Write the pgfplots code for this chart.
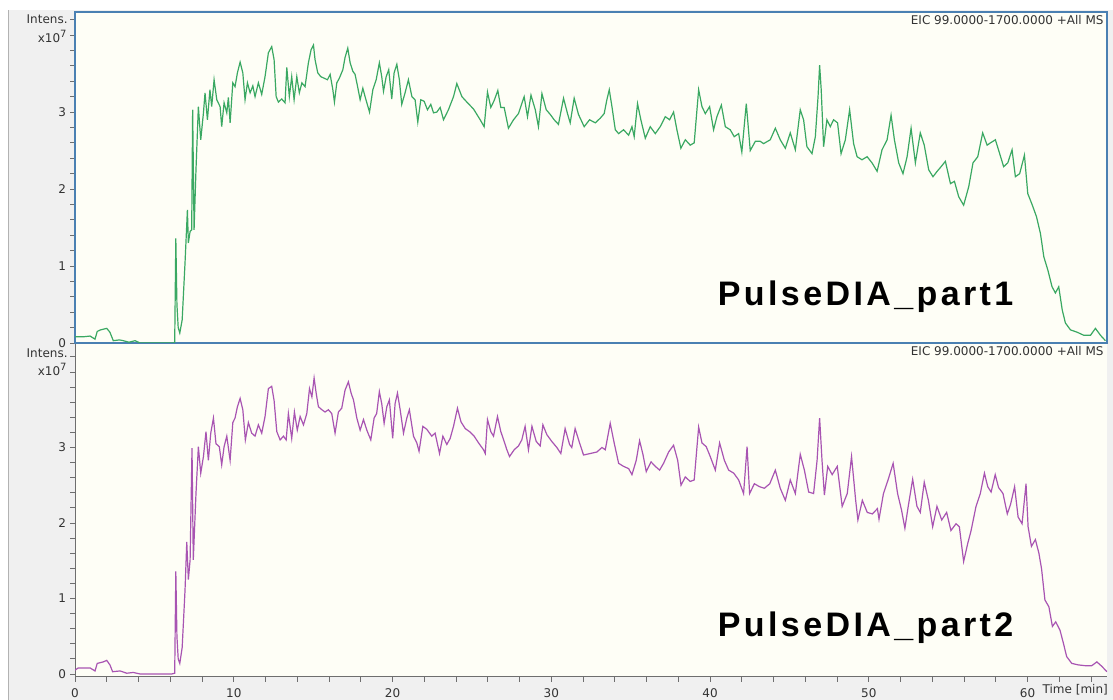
\documentclass[border=0pt]{standalone}
\usepackage{fontspec}
\setmainfont{DejaVu Sans}
\newfontfamily\biglabel[LetterSpace=10]{Liberation Sans}
\usepackage{pgfplots}
\pgfplotsset{compat=1.18}
\definecolor{tracegreen}{RGB}{58,168,98}
\definecolor{tracepurple}{RGB}{168,84,178}
\definecolor{bordblue}{RGB}{74,128,178}
\definecolor{cream}{RGB}{254,254,246}
\definecolor{panelgrey}{RGB}{240,240,240}
\definecolor{tickgrey}{RGB}{110,110,110}

\pgfplotstableread{
x y
0 0.08
0.1 0.08
0.5 0.08
0.95 0.09
1.26 0.05
1.4 0.15
1.6 0.17
2.0 0.19
2.2 0.14
2.41 0.03
2.8 0.04
3.04 0.03
3.4 0.01
3.78 0.03
4.1 0.0
5.0 0.0
6.2 0.0
6.28 0.01
6.35 1.36
6.42 0.5
6.5 0.2
6.6 0.13
6.75 0.3
6.93 1.04
7.08 1.73
7.14 1.30
7.25 1.45
7.35 1.47
7.41 3.03
7.5 1.47
7.62 2.25
7.77 3.07
7.92 2.64
8.09 2.99
8.19 3.25
8.34 2.90
8.5 3.29
8.61 3.07
8.76 3.42
8.93 3.16
9.14 3.07
9.24 2.81
9.39 3.12
9.56 2.99
9.66 3.19
9.77 2.86
9.94 3.38
10.08 3.33
10.23 3.51
10.40 3.65
10.57 3.51
10.71 3.16
10.86 3.38
11.03 3.25
11.20 3.34
11.34 3.20
11.55 3.38
11.76 3.23
11.97 3.46
12.18 3.77
12.39 3.85
12.54 3.68
12.67 3.20
12.81 3.13
13.02 3.17
13.23 3.12
13.34 3.58
13.5 3.20
13.65 3.46
13.8 3.16
13.97 3.46
14.13 3.25
14.29 3.38
14.49 3.33
14.70 3.64
14.87 3.81
15.02 3.87
15.12 3.68
15.29 3.51
15.48 3.46
15.69 3.44
15.9 3.42
16.07 3.49
16.24 3.29
16.34 3.13
16.49 3.38
16.65 3.44
16.87 3.55
17.01 3.71
17.18 3.83
17.33 3.64
17.5 3.53
17.64 3.49
17.79 3.34
17.96 3.16
18.13 3.31
18.27 3.20
18.55 3.00
18.76 3.29
18.97 3.42
19.17 3.64
19.32 3.46
19.43 3.27
19.6 3.46
19.76 3.55
19.95 3.17
20.1 3.51
20.27 3.62
20.43 3.42
20.58 3.10
20.79 3.25
21.0 3.42
21.22 3.20
21.42 3.16
21.59 2.87
21.78 3.16
21.99 3.14
22.2 3.03
22.41 3.10
22.58 2.99
22.79 3.0
23.0 3.06
23.21 2.90
23.52 3.03
23.84 3.20
24.05 3.37
24.37 3.20
24.68 3.13
25.1 3.04
25.52 2.90
25.77 2.81
25.98 3.26
26.19 3.06
26.4 3.15
26.63 3.28
26.82 3.06
27.03 3.06
27.3 2.79
27.62 2.90
27.93 2.98
28.29 3.20
28.5 2.94
28.72 3.22
28.99 3.03
29.19 2.81
29.41 3.24
29.68 3.03
29.93 2.97
30.18 2.90
30.45 2.84
30.77 3.18
31.02 2.98
31.19 2.86
31.44 3.18
31.71 2.97
32.07 2.81
32.41 2.90
32.77 2.86
33.08 2.92
33.33 2.98
33.5 3.16
33.65 3.29
33.82 3.07
34.03 2.77
34.24 2.72
34.55 2.77
34.87 2.70
35.08 2.81
35.22 2.68
35.43 3.11
35.64 2.90
35.92 2.66
36.23 2.81
36.55 2.72
36.86 2.81
37.18 2.94
37.45 2.90
37.7 3.00
37.91 2.77
38.16 2.53
38.44 2.64
38.75 2.57
39.0 2.60
39.28 3.29
39.49 3.07
39.7 2.98
39.97 3.07
40.22 2.77
40.43 2.94
40.71 3.09
40.96 2.81
41.27 2.77
41.52 2.68
41.8 2.72
42.0 2.48
42.28 3.11
42.53 2.50
42.85 2.62
43.16 2.62
43.37 2.59
43.79 2.64
44.11 2.79
44.42 2.64
44.74 2.53
45.05 2.73
45.37 2.51
45.68 3.03
45.89 2.90
46.1 2.55
46.42 2.46
46.63 2.68
46.8 3.20
46.9 3.61
47.0 3.29
47.15 2.55
47.36 2.90
47.57 2.81
47.78 2.90
48.03 2.86
48.25 2.46
48.52 2.64
48.79 3.03
49.04 2.59
49.26 2.42
49.57 2.38
49.89 2.42
50.2 2.34
50.52 2.23
50.83 2.51
51.15 2.64
51.4 2.96
51.61 2.64
51.88 2.34
52.15 2.20
52.41 2.42
52.66 2.79
52.93 2.34
53.24 2.73
53.49 2.57
53.77 2.25
54.04 2.16
54.3 2.23
54.55 2.29
54.82 2.36
55.14 2.07
55.39 2.10
55.66 1.90
55.97 1.79
56.29 2.03
56.56 2.34
56.86 2.42
57.17 2.73
57.45 2.57
57.66 2.60
57.97 2.64
58.24 2.46
58.49 2.29
58.75 2.34
59.02 2.51
59.23 2.16
59.5 2.20
59.8 2.44
60.01 1.94
60.28 1.80
60.56 1.64
60.81 1.42
61.02 1.12
61.27 0.95
61.54 0.73
61.75 0.65
61.96 0.73
62.18 0.43
62.38 0.26
62.7 0.17
63.12 0.14
63.54 0.10
63.96 0.10
64.27 0.19
64.59 0.10
64.9 0.03
}\partone

\pgfplotstableread{
x y
0 0.05
0.2 0.08
0.95 0.08
1.26 0.04
1.4 0.14
1.78 0.16
2.0 0.18
2.2 0.12
2.37 0.03
2.84 0.04
3.26 0.01
3.67 0.02
4.1 0.0
6.09 0.0
6.28 0.01
6.35 1.36
6.42 0.5
6.5 0.2
6.6 0.14
6.75 0.35
6.93 1.11
7.04 1.75
7.14 1.25
7.25 1.51
7.37 2.99
7.45 1.51
7.62 2.39
7.77 3.01
7.92 2.66
8.09 2.88
8.25 3.21
8.4 2.83
8.55 3.19
8.72 3.39
8.88 3.05
9.09 3.01
9.24 2.77
9.39 3.01
9.56 3.15
9.77 2.83
9.94 3.33
10.08 3.39
10.23 3.54
10.4 3.65
10.57 3.50
10.73 3.10
10.92 3.33
11.13 3.19
11.34 3.15
11.55 3.30
11.76 3.19
11.97 3.41
12.18 3.78
12.39 3.81
12.54 3.62
12.71 3.21
12.92 3.10
13.13 3.15
13.3 3.10
13.44 3.45
13.65 3.12
13.82 3.47
14.0 3.23
14.18 3.41
14.39 3.30
14.6 3.45
14.77 3.78
14.92 3.67
15.06 3.92
15.19 3.72
15.33 3.54
15.55 3.50
15.75 3.47
15.96 3.50
16.17 3.45
16.38 3.19
16.59 3.47
16.8 3.52
17.01 3.76
17.22 3.87
17.39 3.72
17.54 3.63
17.75 3.39
17.96 3.23
18.17 3.37
18.38 3.23
18.63 3.10
18.84 3.39
19.0 3.45
19.17 3.74
19.32 3.58
19.47 3.32
19.64 3.54
19.8 3.63
20.01 3.12
20.16 3.58
20.31 3.72
20.48 3.50
20.69 3.19
20.9 3.39
21.06 3.50
21.32 3.15
21.53 3.06
21.67 2.95
21.91 3.28
22.16 3.24
22.47 3.15
22.68 3.19
22.96 2.92
23.17 3.15
23.42 3.04
23.63 3.12
23.84 3.28
24.09 3.52
24.31 3.34
24.58 3.25
24.85 3.21
25.14 3.15
25.42 3.06
25.73 2.97
25.84 2.92
25.98 3.37
26.19 3.21
26.36 3.15
26.61 3.41
26.82 3.21
27.03 3.08
27.2 2.97
27.37 2.88
27.66 2.97
27.93 3.02
28.14 3.10
28.35 3.28
28.56 2.97
28.78 3.28
29.05 3.08
29.3 3.02
29.47 3.30
29.72 3.17
30.03 3.08
30.35 3.00
30.6 2.92
30.87 3.25
31.15 3.04
31.29 3.00
31.5 3.25
31.78 3.06
32.03 2.90
32.45 2.92
32.87 2.94
33.19 3.00
33.4 2.97
33.71 3.32
33.96 3.06
34.24 2.79
34.55 2.75
34.87 2.72
35.08 2.64
35.35 2.83
35.56 3.09
35.77 2.91
35.98 2.68
36.28 2.81
36.55 2.75
36.82 2.70
37.07 2.79
37.39 2.94
37.7 3.03
37.96 2.83
38.17 2.50
38.44 2.61
38.75 2.55
39.0 2.57
39.28 3.27
39.49 3.06
39.76 3.01
40.01 2.88
40.33 2.70
40.6 3.06
40.9 2.83
41.17 2.70
41.49 2.66
41.8 2.57
42.11 2.39
42.33 3.01
42.49 2.39
42.79 2.52
43.12 2.48
43.42 2.46
43.76 2.52
44.11 2.70
44.42 2.46
44.74 2.30
45.05 2.57
45.37 2.39
45.68 2.91
45.94 2.70
46.21 2.41
46.52 2.39
46.74 2.83
46.9 3.39
47.05 2.83
47.2 2.37
47.41 2.75
47.69 2.64
48.01 2.75
48.32 2.22
48.64 2.39
48.91 2.88
49.17 2.30
49.31 2.04
49.59 2.30
49.9 2.14
50.22 2.12
50.54 2.19
50.64 2.05
50.92 2.39
51.21 2.57
51.53 2.79
51.81 2.39
52.06 2.17
52.27 1.93
52.48 2.22
52.76 2.58
53.03 2.22
53.24 2.14
53.49 2.54
53.75 2.30
54.02 1.95
54.29 2.22
54.59 2.04
54.9 2.14
55.17 1.90
55.49 1.99
55.7 1.95
55.97 1.49
56.23 1.73
56.44 1.90
56.75 2.22
57.02 2.39
57.28 2.66
57.49 2.48
57.7 2.41
57.96 2.64
58.17 2.47
58.45 2.39
58.72 2.12
58.93 2.25
59.18 2.48
59.4 2.08
59.65 1.99
59.9 2.52
60.03 1.95
60.24 1.69
60.49 1.78
60.71 1.60
60.88 1.39
61.09 0.98
61.34 0.89
61.56 0.63
61.77 0.69
62.04 0.58
62.25 0.41
62.46 0.23
62.78 0.14
63.2 0.12
63.62 0.11
64.04 0.11
64.36 0.16
64.68 0.10
64.99 0.03
}\parttwo

\pgfplotsset{
  chromstyle/.style={
    scale only axis,
    anchor=south west,
    width=516pt,
    xmin=0, xmax=65,
    clip mode=individual,
    tick align=outside,
    major tick length=2.5pt,
    minor tick length=2.5pt,
    every tick/.style={draw=tickgrey, line width=0.4pt},
    ytick={0,1,2,3},
    minor ytick={0.2,0.4,0.6,0.8,1.2,1.4,1.6,1.8,2.2,2.4,2.6,2.8,3.2,3.4,3.6,3.8,4,4.2},
    ytick pos=left,
    /pgf/number format/assume math mode=true,
    tick label style={font=\fontsize{6}{7}\selectfont, text=black!80},
    yticklabel style={xshift=1.5pt},
    axis background/.style={fill=cream},
  }
}

\begin{document}
\begin{tikzpicture}
\fill[white] (0,0) rectangle (556.5pt,350pt);
\fill[panelgrey] (4pt,0) rectangle (556.5pt,345pt);
\draw[gray!60, line width=0.4pt] (4pt,0) -- (4pt,345pt);

% bottom panel
\begin{axis}[chromstyle,
  at={(37.5pt,11.5pt)}, height=167pt,
  ymin=-0.04, ymax=4.384,
  axis x line*=bottom, axis y line*=left,
  axis line style={-, draw=tickgrey, line width=0.5pt},
  xtick={0,10,20,30,40,50,60},
  minor xtick={2,4,6,8,12,14,16,18,22,24,26,28,32,34,36,38,42,44,46,48,52,54,56,58,62,64},
  xtick pos=bottom,
  extra x ticks={63},
  extra x tick labels={Time [min]},
  extra x tick style={major tick length=0pt},
]
\addplot[tracepurple, line width=0.6pt] table[x=x,y=y] {\parttwo};
\node[anchor=east, font=\fontsize{6}{7}\selectfont, text=black!80, inner sep=0pt] at ([xshift=-3.5pt]axis cs:0,4.25) {Intens.};
\node[anchor=east, font=\fontsize{6}{7}\selectfont, text=black!80, inner sep=0pt] at ([xshift=-3.5pt]axis cs:0,4.03) {x10\textsuperscript{7}};
\node[anchor=north east, font=\fontsize{6}{7}\selectfont, text=black!80, inner sep=1.5pt] at (rel axis cs:1,1) {EIC 99.0000-1700.0000 +All MS};
\node[font=\biglabel\bfseries\fontsize{17}{19}\selectfont] at (axis cs:49.8,0.61) {PulseDIA\_part2};
\end{axis}

% top panel
\begin{axis}[chromstyle,
  at={(37.5pt,178.5pt)}, height=165.5pt,
  ymin=0, ymax=4.30,
  xtick=\empty,
  axis line style={draw=bordblue, line width=0.9pt},
]
\addplot[tracegreen, line width=0.6pt] table[x=x,y=y] {\partone};
\node[anchor=east, font=\fontsize{6}{7}\selectfont, text=black!80, inner sep=0pt] at ([xshift=-3.5pt]axis cs:0,4.2) {Intens.};
\node[anchor=east, font=\fontsize{6}{7}\selectfont, text=black!80, inner sep=0pt] at ([xshift=-3.5pt]axis cs:0,3.98) {x10\textsuperscript{7}};
\node[anchor=north east, font=\fontsize{6}{7}\selectfont, text=black!80, inner sep=1.5pt] at (rel axis cs:1,1) {EIC 99.0000-1700.0000 +All MS};
\node[font=\biglabel\bfseries\fontsize{17}{19}\selectfont] at (axis cs:49.8,0.6) {PulseDIA\_part1};
\end{axis}

\pgfresetboundingbox
\path (0,0) rectangle (556.5pt,350pt);
\end{tikzpicture}
\end{document}
